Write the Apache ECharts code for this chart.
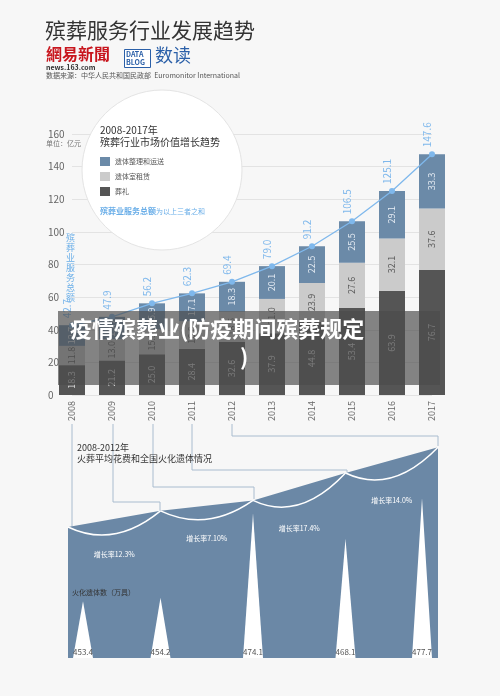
<!DOCTYPE html>
<html>
<head>
<meta charset="utf-8">
<script src="https://cdn.jsdelivr.net/npm/echarts@6/dist/echarts.min.js"></script>
<style>
  html, body { margin: 0; padding: 0; background: #f7f7f7; }
  #main { width: 500px; height: 696px; }
</style>
</head>
<body>
<div id="main"></div>
<script>
// top chart data (亿元)
const years = ['2008','2009','2010','2011','2012','2013','2014','2015','2016','2017'];
const funeral = [18.3, 21.2, 25.0, 28.4, 32.6, 37.9, 44.8, 53.4, 63.9, 76.7];
const rental = [11.8, 13.0, 15.3, 16.8, 18.5, 21.0, 23.9, 27.6, 32.1, 37.6];
const transport = [12.7, 13.7, 15.9, 17.1, 18.3, 20.1, 22.5, 25.5, 29.1, 33.3];
const totals = [42.7, 47.9, 56.2, 62.3, 69.4, 79.0, 91.2, 106.5, 125.1, 147.6];

// bottom chart data
const costYears = ['2008','2009','2010','2011','2012'];
const avgCost = [6265, 7034.6, 7534.9, 8843, 10078.8];
const costLabels = ['6265元', '7034.6元', '7534.9元', '8843元', '10078.8元'];
const growth = ['增长率12.3%', '增长率7.10%', '增长率17.4%', '增长率14.0%'];
const cremations = [453.4, 454.2, 474.1, 468.1, 477.7];

const chart = echarts.init(document.getElementById('main'));
const FONT = '"Noto Sans CJK SC", "Noto Sans", sans-serif';
const LINE = '#a9bccf';

const barLabel = function (color) {
  return { show: true, rotate: 90, fontSize: 9, color: color, fontFamily: FONT,
    formatter: p => p.value.toFixed(1) };
};

// curved connectors between cost points
const arcs = avgCost.slice(0, -1).map((v, i) => [i, v, avgCost[i + 1], growth[i]]);

option = {
  backgroundColor: '#f7f7f7',
  textStyle: { fontFamily: FONT },
  animation: false,
  grid: [
    { left: 72, right: 68, top: 134, height: 261 },
    { left: 68, right: 62, top: 407, height: 251 }
  ],
  xAxis: [{
    type: 'category', data: years, gridIndex: 0, boundaryGap: false,
    axisLine: { show: false }, axisTick: { show: false },
    axisLabel: { rotate: 90, color: '#666', fontSize: 9, margin: 6 }
  }, {
    type: 'category', data: costYears, gridIndex: 1, boundaryGap: false,
    show: false
  }],
  yAxis: [{
    type: 'value', gridIndex: 0, min: 0, max: 160, interval: 20,
    axisLabel: { color: '#666', fontSize: 10, margin: 24, align: 'left' },
    splitLine: { lineStyle: { color: '#e3e3e3' } },
    axisLine: { show: false }, axisTick: { show: false }
  }, {
    type: 'value', gridIndex: 1, min: 0, max: 12000, show: false
  }, {
    type: 'value', gridIndex: 1, min: 440, max: 499.2, show: false
  }],
  graphic: [
    { type: 'text', left: 45, top: 20, style: { text: '殡葬服务行业发展趋势', font: '21px ' + FONT, fill: '#333' } },
    { type: 'text', left: 46, top: 46, style: { text: '網易新聞', font: 'bold 16px ' + FONT, fill: '#c8161e' } },
    { type: 'text', left: 46, top: 64, style: { text: 'news.163.com', font: 'bold 7px ' + FONT, fill: '#333' } },
    { type: 'rect', left: 124, top: 49, shape: { width: 26, height: 18 }, style: { fill: '#fff', stroke: '#2a5fa8' } },
    { type: 'text', left: 126, top: 50, style: { text: 'DATA\nBLOG', font: 'bold 7px ' + FONT, fill: '#2a5fa8', lineHeight: 8 } },
    { type: 'text', left: 155, top: 46, style: { text: '数读', font: '18px ' + FONT, fill: '#2a5fa8' } },
    { type: 'text', left: 46, top: 72, style: { text: '数据来源：中华人民共和国民政部  Euromonitor International', font: '7px ' + FONT, fill: '#555' } },
    { type: 'text', left: 46, top: 140, style: { text: '单位：亿元', font: '7px ' + FONT, fill: '#777' } },
    { type: 'text', left: 66, top: 233, style: { text: '殡\n葬\n业\n服\n务\n总\n额', font: '9px ' + FONT, fill: '#6aaee8', lineHeight: 10 } },
    { type: 'circle', shape: { cx: 162, cy: 170, r: 80 }, style: { fill: '#fff', stroke: '#e4e4e4' }, z: 50 },
    { type: 'text', left: 100, top: 124, z: 51, style: { text: '2008-2017年\n殡葬行业市场价值增长趋势', font: '10px ' + FONT, fill: '#333', lineHeight: 12 } },
    { type: 'rect', left: 100, top: 157, z: 51, shape: { width: 10, height: 9 }, style: { fill: '#6b8aa8' } },
    { type: 'rect', left: 100, top: 172, z: 51, shape: { width: 10, height: 9 }, style: { fill: '#cbcbcb' } },
    { type: 'rect', left: 100, top: 187, z: 51, shape: { width: 10, height: 9 }, style: { fill: '#555' } },
    { type: 'text', left: 115, top: 158, z: 51, style: { text: '遗体整理和运送', font: '7px ' + FONT, fill: '#555' } },
    { type: 'text', left: 115, top: 173, z: 51, style: { text: '遗体室租赁', font: '7px ' + FONT, fill: '#555' } },
    { type: 'text', left: 115, top: 188, z: 51, style: { text: '葬礼', font: '7px ' + FONT, fill: '#555' } },
    { type: 'text', left: 100, top: 207, z: 51, style: { rich: { a: { font: 'bold 8px ' + FONT, fill: '#6aaee8' }, b: { font: '7px ' + FONT, fill: '#6aaee8' } }, text: '{a|殡葬业服务总额}{b|为以上三者之和}' } },
    // connectors from year labels to bottom chart
    { type: 'polyline', shape: { points: [[72, 424], [72, 528]] }, style: { stroke: LINE, fill: null } },
    { type: 'polyline', shape: { points: [[113, 424], [113, 502], [160, 502], [160, 512]] }, style: { stroke: LINE, fill: null } },
    { type: 'polyline', shape: { points: [[153, 424], [153, 487], [254, 487], [254, 499]] }, style: { stroke: LINE, fill: null } },
    { type: 'polyline', shape: { points: [[192, 424], [192, 470], [347, 470], [347, 472]] }, style: { stroke: LINE, fill: null } },
    { type: 'polyline', shape: { points: [[232, 424], [232, 436], [438, 436], [438, 446]] }, style: { stroke: LINE, fill: null } },
    { type: 'text', left: 77, top: 442, style: { text: '2008-2012年\n火葬平均花费和全国火化遗体情况', font: '9px ' + FONT, fill: '#333', lineHeight: 11 } },
    { type: 'text', left: 72, top: 589, z: 30, style: { text: '火化遗体数（万具）', font: '7px ' + FONT, fill: '#333' } },
    // overlay band
    { type: 'rect', left: 58, top: 311, z: 100, shape: { width: 382, height: 74 }, style: { fill: 'rgba(75,75,75,0.68)' } },
    { type: 'text', left: 70, top: 318, z: 101, style: { text: '疫情殡葬业(防疫期间殡葬规定', font: 'bold 22px ' + FONT, fill: '#fff' } },
    { type: 'text', left: 240, top: 346, z: 101, style: { text: ')', font: 'bold 22px ' + FONT, fill: '#fff' } }
  ],
  series: [
    { name: '葬礼', type: 'bar', stack: 't', data: funeral, barWidth: 26, itemStyle: { color: '#555' }, label: barLabel('#ddd') },
    { name: '遗体室租赁', type: 'bar', stack: 't', data: rental, itemStyle: { color: '#cbcbcb' }, label: barLabel('#555') },
    { name: '遗体整理和运送', type: 'bar', stack: 't', data: transport, itemStyle: { color: '#6b8aa8' }, label: barLabel('#e8eef5') },
    { name: '总额', type: 'line', data: totals, symbol: 'circle', symbolSize: 6,
      lineStyle: { color: '#7fb8ec', width: 1.3 }, itemStyle: { color: '#7fb8ec' },
      label: { show: true, rotate: 90, position: 'top', align: 'left', distance: 4, fontSize: 10, color: '#7fb8ec', formatter: p => p.value.toFixed(1) } },
    // bottom: cost area
    { type: 'line', xAxisIndex: 1, yAxisIndex: 1, data: avgCost, symbol: 'none',
      lineStyle: { width: 0 }, areaStyle: { color: '#6b88a6', opacity: 1 },
      label: { show: true, position: 'top', fontSize: 8, color: '#666', distance: 2,
        formatter: p => costLabels[p.dataIndex] } },
    { type: 'custom', xAxisIndex: 1, yAxisIndex: 1, data: arcs, z: 5,
      renderItem: function (params, api) {
        const a = api.coord([api.value(0), api.value(1)]);
        const b = api.coord([api.value(0) + 1, api.value(2)]);
        const mx = (a[0] + b[0]) / 2, my = Math.max(a[1], b[1]) + 22;
        return { type: 'group', children: [
          { type: 'bezierCurve', shape: { x1: a[0], y1: a[1], x2: b[0], y2: b[1], cpx1: mx, cpy1: my },
            style: { stroke: '#fff', lineWidth: 1.5, fill: null } },
          { type: 'text', x: mx, y: my + 2, style: { text: arcs[params.dataIndex][3], font: '7px ' + FONT, fill: '#fff', align: 'center' } }
        ] };
      } },
    { type: 'custom', xAxisIndex: 1, yAxisIndex: 2, data: cremations.map((v, i) => [i, v]), z: 6,
      renderItem: function (params, api) {
        const n = cremations.length;
        const i = api.value(0);
        const p = api.coord([i, api.value(1)]);
        const base = api.coord([i, 440]);
        const shift = i === 0 ? 15 : (i === n - 1 ? -16 : 0);
        const x = p[0] + shift, w = 10;
        return { type: 'group', children: [
          { type: 'polygon', shape: { points: [[x - w, base[1]], [x, p[1]], [x + w, base[1]]] }, style: { fill: '#fff' } },
          { type: 'text', x: x, y: base[1] - 10, style: { text: api.value(1).toFixed(1), font: '8px ' + FONT, fill: '#555', align: 'center' } }
        ] };
      } }
  ]
};
chart.setOption(option);
</script>
</body>
</html>
